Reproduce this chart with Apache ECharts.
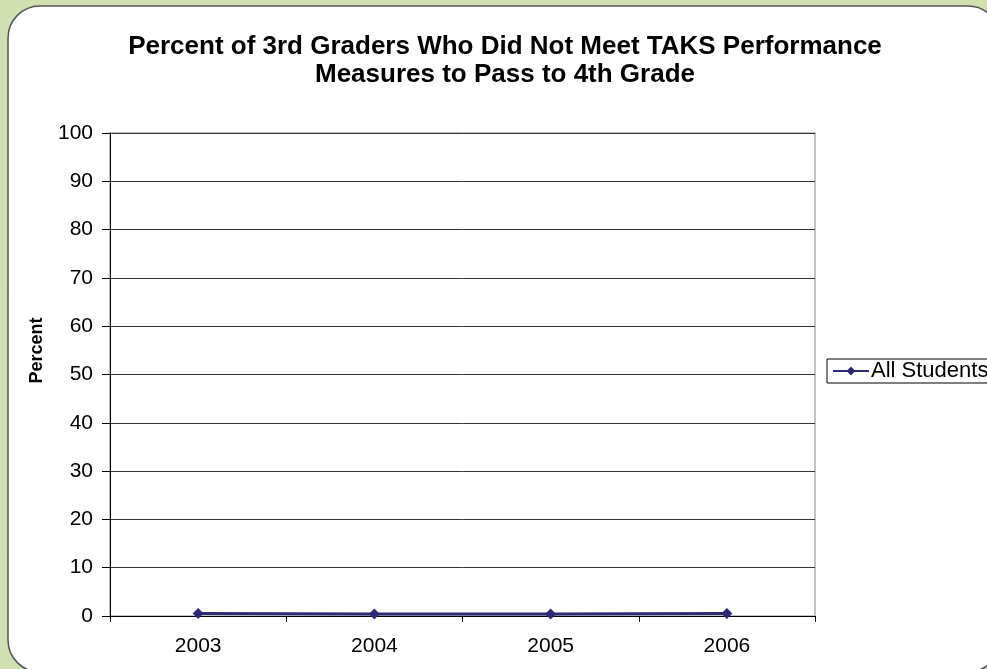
<!DOCTYPE html>
<html>
<head>
<meta charset="utf-8">
<script src="https://cdn.jsdelivr.net/npm/echarts@6/dist/echarts.min.js"></script>
<style>
html,body{margin:0;padding:0;background:#d0e0b0;}
#c{width:987px;height:669px;}
</style>
</head>
<body>
<div id="c"></div>
<script>
var titleText = 'Percent of 3rd Graders Who Did Not Meet TAKS Performance\nMeasures to Pass to 4th Grade';
var categories = ['2003', '2004', '2005', '2006'];
var allStudents = [0.5, 0.4, 0.4, 0.5];
var seriesName = 'All Students';
var yAxisName = 'Percent';

var chart = echarts.init(document.getElementById('c'));
var font = 'Liberation Sans, Arial, sans-serif';
chart.setOption({
  backgroundColor: '#d0e0b0',
  animation: false,
  graphic: [{
    type: 'rect', z: -10, silent: true,
    shape: {x: 8, y: 6, width: 992, height: 666, r: 32},
    style: {fill: '#ffffff', stroke: '#555555', lineWidth: 1.5}
  }],
  title: {
    text: titleText,
    left: 500, top: 28, textAlign: 'center',
    textStyle: {fontFamily: font, fontSize: 26, fontWeight: 'bold', color: '#000', lineHeight: 28}
  },
  legend: {
    data: [seriesName],
    left: 827, top: 359,
    orient: 'vertical',
    itemWidth: 36, itemHeight: 11,
    itemGap: 0,
    padding: [1, 20, 1, 5],
    borderColor: '#000', borderWidth: 1,
    textStyle: {fontFamily: font, fontSize: 22, color: '#000', padding: [0,0,0,-3]}
  },
  grid: {
    left: 110, right: 172, top: 133, bottom: 53,
    show: true, borderColor: '#b0b0b0', borderWidth: 1.5, backgroundColor: 'transparent'
  },
  xAxis: {
    type: 'category', data: categories, boundaryGap: true,
    axisLine: {lineStyle: {color: '#000', width: 1}},
    axisTick: {show: true, length: 6, lineStyle: {color: '#000'}},
    axisLabel: {fontFamily: font, fontSize: 21, color: '#000', margin: 20}
  },
  yAxis: {
    type: 'value', min: 0, max: 100, interval: 10,
    name: yAxisName, nameLocation: 'middle', nameGap: 64,
    nameTextStyle: {fontFamily: font, fontSize: 18, fontWeight: 'bold', color: '#000', padding: [0,0,0,48]},
    axisLine: {show: true, lineStyle: {color: '#000', width: 1}},
    axisTick: {show: true, length: 8, inside: false, lineStyle: {color: '#000'}},
    axisLabel: {fontFamily: font, fontSize: 21, color: '#000', margin: 17},
    splitLine: {show: true, lineStyle: {color: '#333', width: 1}}
  },
  series: [{
    name: seriesName, type: 'line', data: allStudents,
    symbol: 'diamond', symbolSize: 11,
    lineStyle: {color: '#2d2a78', width: 3},
    itemStyle: {color: '#2d2a78'}
  }]
});
</script>
</body>
</html>
